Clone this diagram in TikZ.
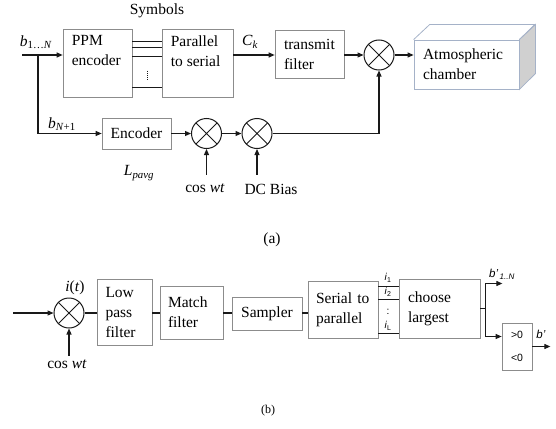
\documentclass[tikz,border=0pt]{standalone}
\usepackage{fontspec}
\setmainfont{Liberation Serif}
\setsansfont{Liberation Sans}
\usepackage{tikz}
\usetikzlibrary{arrows.meta, positioning, calc}
\definecolor{boxgray}{RGB}{140, 140, 140}
\definecolor{wireblack}{RGB}{25, 25, 25}
\definecolor{chamberedge}{RGB}{165, 178, 200}
\definecolor{chamberside}{RGB}{208, 208, 208}

\begin{document}
\begin{tikzpicture}[x=1pt, y=-1pt, >={Triangle[length=6pt,width=5pt]},
  every node/.style={font=\fontsize{15.5}{20}\selectfont},
  blk/.style={rectangle, draw=boxgray, line width=0.7pt, inner sep=0pt, align=left},
  blktext/.style={inner sep=0pt, align=left},
  mixer/.style={circle, draw=wireblack, line width=1pt, minimum size=30pt, inner sep=0pt,
    path picture={\draw[wireblack, line width=1pt]
      (path picture bounding box.north west) -- (path picture bounding box.south east)
      (path picture bounding box.north east) -- (path picture bounding box.south west);}},
  wire/.style={draw=wireblack, line width=1.1pt},
  sig/.style={inner sep=1pt},
  sans/.style={inner sep=1pt, font=\sffamily\fontsize{10}{11}\selectfont}
]
\useasboundingbox (0,0) rectangle (556,428);

% (a) transmitter
\node[sig] (symbols) at (157,11) {Symbols};
\coordinate (in1) at (22,55);
\coordinate (split1) at (38,55);
\node[sig] (bin) at (36,42) {\textit{b}\textsubscript{1\ldots\textit{N}}};

\node[blk, minimum width=69pt, minimum height=68pt] (ppm) at (97.5,63) {};
\node[blktext, anchor=north west] (ppmtext) at ([xshift=9pt,yshift=-7pt]ppm.north west) {PPM\\encoder};
\node[blk, minimum width=71pt, minimum height=68pt] (par) at (197.5,63) {};
\node[blktext, anchor=north west] (partext) at ([xshift=9pt,yshift=-7pt]par.north west) {Parallel\\to serial};
\node[sig] (ck) at (250,42) {\textit{C\textsubscript{k}}};
\node[blk, minimum width=69pt, minimum height=48pt, text width=51pt] (tx) at (309.5,54) {transmit\\filter};
\node[mixer] (m1) at (379,55) {};
\node[blk, draw=chamberedge, line width=0.8pt, minimum width=105pt, minimum height=49pt, text width=87pt] (ch) at (466.5,64.5) {Atmospheric\\chamber};

% chamber faces
\draw[chamberedge, line width=0.8pt] (ch.north west) -- ++(16,-15) -- ++(105,0) -- (ch.north east);
\filldraw[fill=chamberside, draw=chamberedge, line width=0.8pt] (ch.north east) -- ++(16,-15) -- ++(0,49) -- (ch.south east) -- cycle;

% symbol lines
\draw[wire] ([yshift=-13pt]ppm.north east) -- ([yshift=-13pt]par.north west);
\draw[wire] ([yshift=-19pt]ppm.north east) -- ([yshift=-19pt]par.north west);
\draw[wire] ([yshift=-28pt]ppm.north east) -- ([yshift=-28pt]par.north west);
\draw[wire] ([yshift=10pt]ppm.south east) -- ([yshift=10pt]par.south west);
\draw[wireblack, line width=1pt, dash pattern=on 1pt off 1.2pt] ($(ppm.north east)!0.5!(par.north west)+(0,42)$) -- ++(0,11);

% main path
\draw[wire,->] (in1) -- (in1 -| ppm.west);
\draw[wire,->] (par.east |- m1.west) -- (tx.west |- m1.west);
\draw[wire,->] (tx.east |- m1.west) -- (m1.west);
\draw[wire,->] (m1.east) -- (m1.east -| ch.west);

% lower branch
\node[blk, minimum width=69pt, minimum height=31pt, align=center] (enc) at (136.5,133.5) {Encoder};
\node[sig] (bn1) at (62,124) {\textit{b}\textsubscript{\textit{N}+1}};
\node[mixer] (m2) at (206.5,133.5) {};
\node[mixer] (m3) at (257,133.5) {};
\node[sig] (lpavg) at (139,173) {\textit{L\textsubscript{pavg}}};
\node[sig] (cos1) at (205,188) {cos \textit{wt}};
\node[sig] (dc) at (271,189) {DC Bias};

\draw[wire,->] (split1) |- (enc.west);
\draw[wire,->] (enc.east) -- (m2.west);
\draw[wire,->] (m2.east) -- (m3.west);
\draw[wire,->] (m3.east) -| (m1.south);
\draw[wire,<-] (m2.south) -- ++(0,26);
\draw[wire,<-] (m3.south) -- ++(0,26);

\node[sig] (capa) at (272,240) {(a)};

% (b) receiver
\coordinate (in2) at (13,313);
\node[mixer] (m4) at (69,313) {};
\node[sig] (it) at (75,288) {\textit{i}(\textit{t})};
\node[sig] (cos2) at (67,364) {cos \textit{wt}};
\node[blk, minimum width=55pt, minimum height=66pt, text width=38pt] (lpf) at (124.5,312) {Low\\pass\\filter};
\node[blk, minimum width=63pt, minimum height=53pt, text width=47pt] (mf) at (191.5,312.5) {Match\\filter};
\node[blk, minimum width=70pt, minimum height=33pt, align=center] (smp) at (267,313.5) {Sampler};
\node[blk, minimum width=70pt, minimum height=57pt, text width=54pt] (s2p) at (343,309.5) {Serial to\\parallel};
\node[blk, minimum width=81pt, minimum height=59pt, text width=63pt] (cl) at (439.5,308.5) {choose\\largest};
\node[blk, minimum width=30pt, minimum height=47pt, align=center, font=\sffamily\fontsize{10.5}{23}\selectfont] (dec) at (517,346.5) {>0\\<0};

\draw[wire,->] (in2) -- (m4.west);
\draw[wire,<-] (m4.south) -- ++(0,27);
\draw[wire] (m4.east) -- (m4.east -| lpf.west);
\draw[wire] (lpf.east |- m4.east) -- (mf.west |- m4.east);
\draw[wire] (mf.east |- m4.east) -- (smp.west |- m4.east);
\draw[wire] (smp.east |- m4.east) -- (s2p.west |- m4.east);

% parallel lines
\draw[wire] ([yshift=-6pt]s2p.north east) -- ([yshift=-6pt]s2p.north east -| cl.west);
\draw[wire] ([yshift=-19pt]s2p.north east) -- ([yshift=-19pt]s2p.north east -| cl.west);
\draw[wire] ([yshift=5pt]s2p.south east) -- ([yshift=5pt]s2p.south east -| cl.west);
\node[sans] (i1) at (388,278) {\textit{i}\textsubscript{1}};
\node[sans] (i2) at (388,292) {\textit{i}\textsubscript{2}};
\node[sans] (idots) at (388,312) {:};
\node[sans] (iL) at (388,326) {\textit{i}\textsubscript{L}};

% decision
\coordinate (split2) at ([xshift=5pt]cl.east);
\draw[wire] (cl.east) -- (split2);
\draw[wire,->] (split2) -- ++(0,-25) -- ++(17,0);
\draw[wire,->] (split2) |- ([yshift=10pt]dec.west);
\draw[wire,->] (dec.east) -- ++(18,0);
\node[sans, font=\sffamily\fontsize{11.5}{12}\selectfont] (bout1) at (502,274) {\textit{b'}\textsubscript{\,\textit{1..N}}};
\node[sans, font=\sffamily\fontsize{11.5}{12}\selectfont] (bout2) at (541,334) {\textit{b'}};

\node[sig, font=\fontsize{12}{14}\selectfont] (capb) at (268,411) {(b)};

\end{tikzpicture}
\end{document}
